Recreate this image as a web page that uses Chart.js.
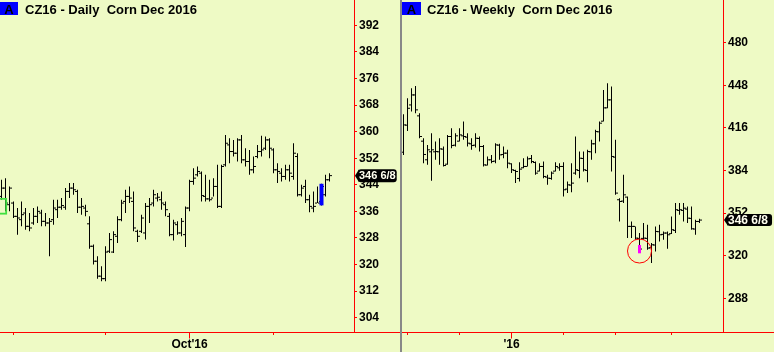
<!DOCTYPE html>
<html><head><meta charset="utf-8">
<script src="https://cdn.jsdelivr.net/npm/chart.js@4.4.1/dist/chart.umd.min.js"></script>
<style>
html,body{margin:0;padding:0;background:#eefac5;}
#wrap{position:relative;width:774px;height:352px;overflow:hidden;background:#eefac5;}
canvas{position:absolute;top:0;}
#c1{left:0;} #c2{left:402px;}
.sep{position:absolute;left:400px;top:0;width:2px;height:352px;background:#888888;}
.abox{position:absolute;top:2px;height:13px;background:#0000ff;color:#000;font:bold 13px "Liberation Sans",Arial,sans-serif;text-align:center;line-height:15px;}
.ttl{position:absolute;top:2px;font:bold 13px "Liberation Sans",Arial,sans-serif;line-height:16px;color:#000;white-space:pre;}
</style></head>
<body><div id="wrap">
<canvas id="c1" width="400" height="352"></canvas>
<div class="sep"></div>
<canvas id="c2" width="372" height="352"></canvas>
<div class="abox" style="left:0;width:18px">A</div>
<div class="ttl" style="left:25px">CZ16 - Daily  Corn Dec 2016</div>
<div class="abox" style="left:402px;width:19px">A</div>
<div class="ttl" style="left:427px">CZ16 - Weekly  Corn Dec 2016</div>
</div>
<script>
// ---------- Daily data (bar index 0 = Jul 27 2016) ----------
const dailyOpen = [340.5,343,338,338.5,334.5,333.5,335.5,331.5,332.5,334.5,
 335.5,333,332.5,333.5,336.5,337.25,337.25,342,343,342,
 337.25,337,332.25,325.5,321,316.5,315.75,324,323.75,328.5,
 333.5,339,340.5,339,330,330,329.5,337.5,338.5,340,
 339.5,338,334.5,329,332,329.5,329,337,345,347,
 347.5,340.5,339.75,340,343.5,337.5,350,356,354,353.5,
 357.5,351.5,351,348.5,352.5,354,355,357.5,354.5,348.5,
 347.5,346.5,348.5,346.5,352.5,341,343.5,339.5,337,338.5,
 339,341,345.5];
const dailyHigh = [345.5,346,343.5,339,337,339,337,335.5,337,337.5,
 336.5,335.5,334,339.5,339.5,340,343,344.5,344.5,342.5,
 340,338,334.5,326,322.5,319.5,325.5,329.5,330,334.5,
 339.5,342.5,343.5,342,330.5,335,338.5,340,342.5,341.5,
 342,339,335.5,333.5,333,334,337.5,345.5,349,349.5,
 348,347,345.5,346,350,350,359,358,357.5,358,
 359,355,354.5,352.5,356,358.75,358.5,358,355,350.5,
 349,350,350,356.5,353.5,344,345.5,341,342,343.5,
 344.3,347,347.5];
const dailyLow = [339.5,336,336,334,329,331.5,330.5,330,332,332.5,
 331.5,331.5,322.5,332,334,336.5,336.5,340,341,335.5,
 335,334.5,324.75,320,315.75,315,315,323.5,323.5,326.5,
 333,335.5,338.5,330,326.75,329.5,327.5,332.5,337.5,339,
 336.5,334.5,328.5,327.25,329,328.5,325.25,336,344,346.5,
 339,339,339,340.5,337,337,349.5,350.5,352.5,351,
 350.5,349.5,347,347.5,352,352.5,354.5,352,347.5,344.5,
 345,345.5,345,345.5,340.5,340.5,338.5,335.75,335.75,338.5,
 337.8,340.5,345];
const dailyClose = [343,338.5,343,334.5,334,335,331.5,331,334.5,336,
 333,332.5,333,337,337.25,337.75,342,343,342.5,337.25,
 337.5,336,325.5,321,316.5,315.75,323.75,327.5,329,333.5,
 338.5,340.5,340,331,328.5,334,337.5,338,341,340.25,
 338.5,336.5,329,332.5,329.5,333,337,345,346,348,
 340.75,339.75,339.5,343.5,337.5,349.5,356.5,354,353.5,357.5,
 351.5,351,348.5,349.5,354,354.5,357.5,355,348.5,348,
 346.5,348.5,347.5,353.5,341,343,339.5,337.5,337.5,338.5,
 343.5,345.5,346.75];
const dailyTickIdx = [3, 26, 47, 68];           // Aug 1, Sep 1, Oct 3, Nov 1
const dailyTickLabels = ['', '', "Oct'16", ''];
const dailyYTicks = [304, 312, 320, 328, 336, 344, 352, 360, 368, 376, 384, 392];
const dailyHighlightIdx = 80;
const dailyHighlightRange = [337.8, 344.3];
const dailyBoxIdx = -0.43;
const dailyBoxRange = [335, 340.1];

// ---------- Weekly data (bar index 0 = late Jun 2015) ----------
const weeklyOpen = [397.7,418,433.2,440.7,425,406,392,398,398,398,
 400,388.7,409.5,403,406,410,409,404,403,408,
 402,388,392,391,403,396,397,389,384,378,
 386,387,393,390,383.5,387,379,378,383.5,386,
 387,370,373,382,384,393,384,398,404,413,
 421,431,437,394,362,361,364,342,342,333,
 333,333,326,328,338,336,337,336.5,339,354,
 354,355,348,340,345.7];
const weeklyHigh = [426.2,438.2,445.7,447.5,427,408.2,403.2,412,405.7,408.2,
 402,410.7,415.7,412,415.7,420.7,412,408.2,412,409.5,
 403.2,394.5,395.7,404.5,404,402,399.5,389.5,384.5,390.2,
 393.2,394.5,395.7,390.7,389.5,390.7,380.7,383.2,390.2,389.5,
 390.2,375.7,389.5,409.5,398.2,398.2,399.5,407,414.5,420.7,
 444.5,449.5,447,407,363.2,380.7,364.5,345.7,342,337,
 344.5,343.2,329.5,342,343.2,338.2,338.2,349.5,359.5,359.5,
 359.5,357,357,347,347.7];
const weeklyLow = [395.7,413.7,428.2,427,408.2,389.5,388.2,376.2,392,388.2,
 387,388.2,400.7,402,405.7,407,402,399.5,401.2,398.2,
 387,387.7,389.5,389.5,392,393.2,385.7,382,374.5,375.7,
 385.7,387,389.5,380.7,383.2,378.2,373.2,377,383.2,383.7,
 364.5,367,367.7,380.7,378.2,383.2,375.2,392,397,405.7,
 420.7,430.7,383.2,365.7,345.7,359.5,333.2,333.2,332,322,
 332,324.5,314.5,323.2,330.7,332,325.2,336.2,337,350.7,
 345.7,344.5,339.5,335.7,344.5];
const weeklyClose = [418.2,430.7,440.7,429.5,409.5,396,399.5,399.5,398.2,400.2,
 387.7,409.5,402.7,410,410.7,409.5,404.5,402.7,408.2,402,
 388.2,392,390.7,403.2,395.7,397,389.5,384.5,383.2,385,
 387,392.7,390.7,382,387,379.5,378.2,382,387,387,
 369.5,373.2,374.5,384.5,393.2,384.5,398.2,404,413.2,419.5,
 431,437,394.5,367,360.7,365.7,342,342,333.2,325,
 333.2,325.7,328.2,338.2,335.7,337,335.7,339.5,354.5,354.5,
 355.7,348.2,340.2,345.7,346.75];
const weeklyTickIdx = [1, 14, 27, 40, 53, 67];   // quarters
const weeklyTickLabels = ['', '', "'16", '', '', ''];
const weeklyYTicks = [288, 320, 352, 384, 416, 448, 480];
const weeklyHighlightIdx = 59;
const weeklyHighlightRange = [321.8, 328];
const weeklyCircle = {x: 59, y: 323.5};

const lastPriceText = '346 6/8';
const lastPriceValue = 346.75;

const FONT = "'Liberation Sans', Arial, sans-serif";

const extrasPlugin = {
  id: 'extras',
  afterDraw(chart, args, o) {
    const ctx = chart.ctx, ca = chart.chartArea, xs = chart.scales.x, ys = chart.scales.y;
    ctx.save();
    ctx.strokeStyle = '#ff0000'; ctx.lineWidth = 1;
    ctx.beginPath(); ctx.moveTo(0, ca.bottom + 0.5); ctx.lineTo(chart.width, ca.bottom + 0.5); ctx.stroke();
    o.majorIdx.forEach(v => {
      const x = Math.round(xs.getPixelForValue(v) - 0.5) + 0.5;
      ctx.beginPath(); ctx.moveTo(x, ca.bottom); ctx.lineTo(x, ca.bottom + 6.5); ctx.stroke();
    });
    const y = ys.getPixelForValue(o.tagValue);
    ctx.font = 'bold ' + o.tagSize + 'px ' + FONT;
    const tw = ctx.measureText(o.tagText).width;
    const x0 = ca.right + 1;
    const h = o.tagH, bx = x0 + 3, bw = tw + o.padL + o.padR;
    ctx.fillStyle = '#000';
    ctx.beginPath(); ctx.moveTo(x0, y); ctx.lineTo(bx + 1, y - h / 2); ctx.lineTo(bx + 1, y + h / 2); ctx.closePath(); ctx.fill();
    ctx.beginPath(); ctx.roundRect(bx, y - h / 2, bw, h, 3); ctx.fill();
    ctx.fillStyle = '#fffff0'; ctx.textBaseline = 'middle'; ctx.textAlign = 'left';
    ctx.fillText(o.tagText, bx + o.padL, y + 0.5);
    ctx.restore();
  }
};

function tickDataset(points) {
  return { type: 'scatter', data: points, pointStyle: 'line', pointRadius: 1, pointHoverRadius: 0,
    pointBorderColor: '#000', pointBorderWidth: 1, borderColor: '#000', order: 1 };
}

function buildChart(id, p) {
  const hl = p.high.map((h, i) => ({ x: i, y: [p.low[i], h] }));
  const op = p.open.map((v, i) => ({ x: i - 0.375, y: v }));
  const cl = p.close.map((v, i) => ({ x: i + 0.375, y: v }));
  const datasets = p.extra.concat([
    { type: 'bar', data: hl, backgroundColor: '#000', barThickness: 1, grouped: false,
      inflateAmount: 0, borderWidth: 0, order: 2 },
    tickDataset(op), tickDataset(cl)
  ]);
  return new Chart(document.getElementById(id), {
    type: 'bar',
    data: { datasets },
    plugins: [extrasPlugin],
    options: {
      responsive: false, animation: false, events: [], devicePixelRatio: 1,
      layout: { padding: 0, autoPadding: false },
      plugins: { legend: { display: false }, tooltip: { enabled: false },
        extras: { majorIdx: p.majorIdx, tagText: lastPriceText, tagValue: lastPriceValue,
                  tagSize: p.tagSize, tagH: p.tagH, padL: p.padL, padR: p.padR } },
      scales: {
        x: {
          type: 'linear', position: 'bottom', min: p.xMin, max: p.xMax, offset: false,
          grid: { display: true, drawOnChartArea: false, drawTicks: true, tickLength: 3, tickColor: '#ff0000', color: '#ff0000', offset: false },
          border: { display: true, color: '#ff0000', width: 1 },
          ticks: { autoSkip: false, maxRotation: 0, color: '#000', padding: 2,
                   font: { family: FONT, weight: 'bold', size: 12 },
                   callback: (v, i) => p.xLabels[i] },
          afterBuildTicks: ax => { ax.ticks = p.xTicks.map(v => ({ value: v })); },
          afterFit: ax => { ax.height = 20; ax.paddingLeft = 0; ax.paddingRight = 0; }
        },
        y: {
          type: 'linear', position: 'right', min: p.yMin, max: p.yMax,
          grid: { display: true, drawOnChartArea: false, drawTicks: true, tickLength: 3, tickColor: '#ff0000', color: '#ff0000' },
          border: { display: true, color: '#ff0000', width: 1 },
          ticks: { color: '#000', padding: 2, font: { family: FONT, weight: 'bold', size: 12 },
                   callback: v => String(v) },
          afterBuildTicks: ax => { ax.ticks = p.yTicks.map(v => ({ value: v })); },
          afterFit: ax => { ax.width = p.yWidth; ax.paddingTop = 0; ax.paddingBottom = 0; }
        }
      }
    }
  });
}

buildChart('c1', {
  open: dailyOpen, high: dailyHigh, low: dailyLow, close: dailyClose,
  xMin: -0.375, xMax: 88.125, yMin: 299.7, yMax: 399.6, yWidth: 46,
  xTicks: dailyTickIdx, xLabels: dailyTickLabels, yTicks: dailyYTicks,
  majorIdx: dailyTickIdx.filter((v, i) => dailyTickLabels[i] !== ''),
  tagSize: 11, tagH: 13, padL: 1, padR: 1,
  extra: [
    { type: 'bar', data: [{ x: dailyHighlightIdx, y: dailyHighlightRange }], backgroundColor: '#0000ff',
      barThickness: 4, grouped: false, inflateAmount: 0, borderWidth: 0, order: 0 },
    { type: 'bar', data: [{ x: dailyBoxIdx, y: dailyBoxRange }], backgroundColor: 'rgba(0,0,0,0)',
      borderColor: '#40e040', borderWidth: 2, borderSkipped: false, barThickness: 15, grouped: false, inflateAmount: 0, order: 0 }
  ]
});

buildChart('c2', {
  open: weeklyOpen, high: weeklyHigh, low: weeklyLow, close: weeklyClose,
  xMin: -0.375, xMax: 79.875, yMin: 262.7, yMax: 512, yWidth: 51,
  xTicks: weeklyTickIdx, xLabels: weeklyTickLabels, yTicks: weeklyYTicks,
  majorIdx: weeklyTickIdx.filter((v, i) => weeklyTickLabels[i] !== ''),
  tagSize: 12, tagH: 12, padL: 1, padR: 4,
  extra: [
    { type: 'bar', data: [{ x: weeklyHighlightIdx, y: weeklyHighlightRange }], backgroundColor: '#ff00ff',
      barThickness: 3, grouped: false, inflateAmount: 0, borderWidth: 0, order: 0 },
    { type: 'scatter', data: [weeklyCircle], pointStyle: 'circle', pointRadius: 12, pointHoverRadius: 0,
      pointBorderColor: '#ff0000', pointBorderWidth: 1, pointBackgroundColor: 'rgba(0,0,0,0)', order: 0 }
  ]
});
</script>
</body></html>
